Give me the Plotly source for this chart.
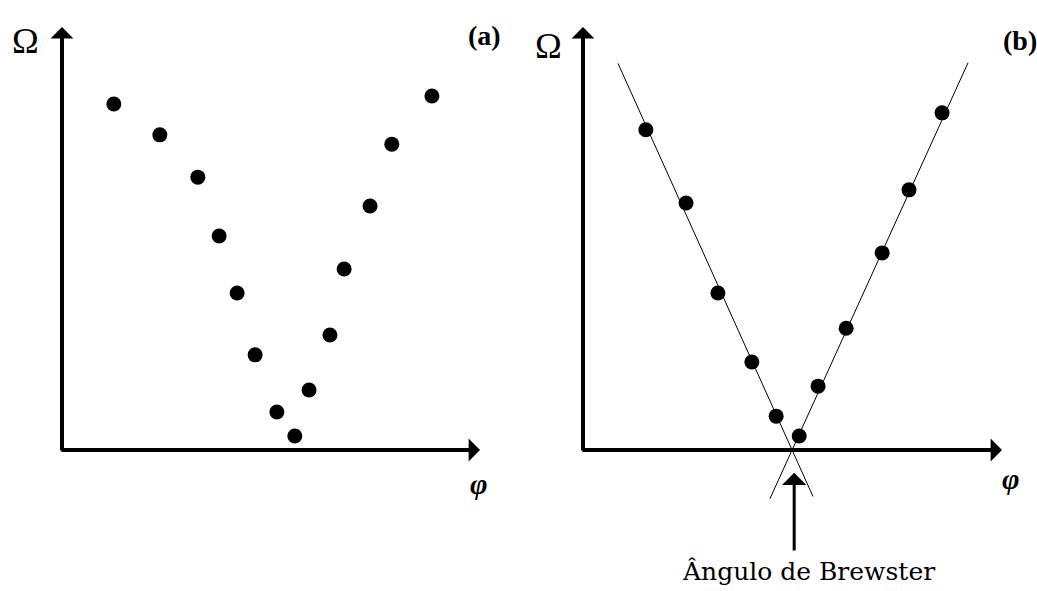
import plotly.graph_objects as go

# Panel (a): measured Ω against φ, no fit
phi_a = [12.4, 23.4, 32.5, 37.6, 41.9, 46.2, 51.4, 55.7, 59.1, 64.1, 67.5, 73.7, 78.9, 88.5]
omega_a = [81.8, 74.5, 64.5, 50.6, 37.1, 22.5, 9.0, 3.3, 14.2, 27.2, 42.8, 57.7, 72.3, 83.7]

# Panel (b): measured Ω against φ, with straight-line fits on both branches
phi_b = [15.0, 24.6, 32.2, 40.3, 46.1, 51.6, 56.1, 62.8, 71.4, 77.8, 85.7]
omega_b = [75.7, 58.4, 37.1, 20.8, 8.0, 3.3, 15.1, 28.8, 46.6, 61.5, 79.7]

# Fitted lines meet the φ axis at the Brewster angle
brewster_angle = 49.9
left_slope, left_fit_span = -2.2, [8.35, 54.9]
right_slope, right_fit_span = 2.18, [44.6, 91.9]

# Axis extents (arrow tips) and label texts
axis_len = 100
y_label = "Ω"
x_label = "φ"
panel_labels = ["(a)", "(b)"]
brewster_text = "Ângulo de Brewster"

W, H = 1037, 591
fig = go.Figure()

marker = dict(color="black", size=15, line=dict(width=0))

fig.add_trace(go.Scatter(x=phi_a, y=omega_a, mode="markers", marker=marker,
                         xaxis="x", yaxis="y", showlegend=False, hoverinfo="skip"))

for slope, span in [(left_slope, left_fit_span), (right_slope, right_fit_span)]:
    fig.add_trace(go.Scatter(
        x=span, y=[slope * (v - brewster_angle) for v in span],
        mode="lines", line=dict(color="black", width=1),
        xaxis="x2", yaxis="y2", showlegend=False, hoverinfo="skip"))

fig.add_trace(go.Scatter(x=phi_b, y=omega_b, mode="markers", marker=marker,
                         xaxis="x2", yaxis="y2", showlegend=False, hoverinfo="skip"))

hidden = dict(visible=False, showgrid=False, zeroline=False, fixedrange=True)
yr = [-33.33, 106.38]
fig.update_layout(
    width=W, height=H,
    margin=dict(l=0, r=0, t=0, b=0),
    paper_bgcolor="white", plot_bgcolor="rgba(0,0,0,0)",
    xaxis=dict(domain=[0, 0.5], range=[-14.83, 109.21], **hidden),
    yaxis=dict(domain=[0, 1], range=yr, **hidden),
    xaxis2=dict(domain=[0.5, 1], range=[-15.39, 108.35], anchor="y2", **hidden),
    yaxis2=dict(domain=[0, 1], range=yr, anchor="x2", **hidden),
)

annotations = []
serif = "Liberation Serif"
for i, (xr, yref) in enumerate([("x", "y"), ("x2", "y2")]):
    # horizontal axis with arrow
    annotations.append(dict(x=axis_len, y=0, ax=-0.5, ay=0, xref=xr, yref=yref,
                            axref=xr, ayref=yref, text="", showarrow=True,
                            arrowhead=1, arrowwidth=4, arrowsize=0.95,
                            arrowcolor="black"))
    # vertical axis with arrow
    annotations.append(dict(x=0, y=axis_len, ax=0, ay=-0.5, xref=xr, yref=yref,
                            axref=xr, ayref=yref, text="", showarrow=True,
                            arrowhead=1, arrowwidth=4, arrowsize=0.95,
                            arrowcolor="black"))

# axis titles and panel tags
annotations += [
    dict(x=-8.85, y=96.7, xref="x", yref="y", text=y_label, showarrow=False,
         font=dict(family=serif, size=36, color="black")),
    dict(x=-8.35, y=95.5, xref="x2", yref="y2", text=y_label, showarrow=False,
         font=dict(family=serif, size=36, color="black")),
    dict(x=99.8, y=-8.0, xref="x", yref="y", text=f"<b><i>{x_label}</i></b>",
         showarrow=False, font=dict(family=serif, size=30, color="black")),
    dict(x=102.1, y=-6.8, xref="x2", yref="y2", text=f"<b><i>{x_label}</i></b>",
         showarrow=False, font=dict(family=serif, size=30, color="black")),
    dict(x=100.96, y=97.9, xref="x", yref="y", text=f"<b>{panel_labels[0]}</b>",
         showarrow=False, font=dict(family=serif, size=28, color="black")),
    dict(x=104.2, y=96.9, xref="x2", yref="y2", text=f"<b>{panel_labels[1]}</b>",
         showarrow=False, font=dict(family=serif, size=28, color="black")),
]

# arrow pointing at the Brewster angle, with its caption
annotations.append(dict(x=brewster_angle + 0.5, y=-5.4, ax=brewster_angle + 0.5, ay=-24.1,
                        xref="x2", yref="y2", axref="x2", ayref="y2", text="",
                        showarrow=True, arrowhead=1, arrowwidth=3, arrowsize=1.35,
                        arrowcolor="black"))
annotations.append(dict(x=brewster_angle, y=-28.8, xref="x2", yref="y2", xshift=16,
                        text=brewster_text, showarrow=False,
                        font=dict(family="DejaVu Serif", size=25, color="black")))

fig.update_layout(annotations=annotations)

fig.write_html("out.html")
